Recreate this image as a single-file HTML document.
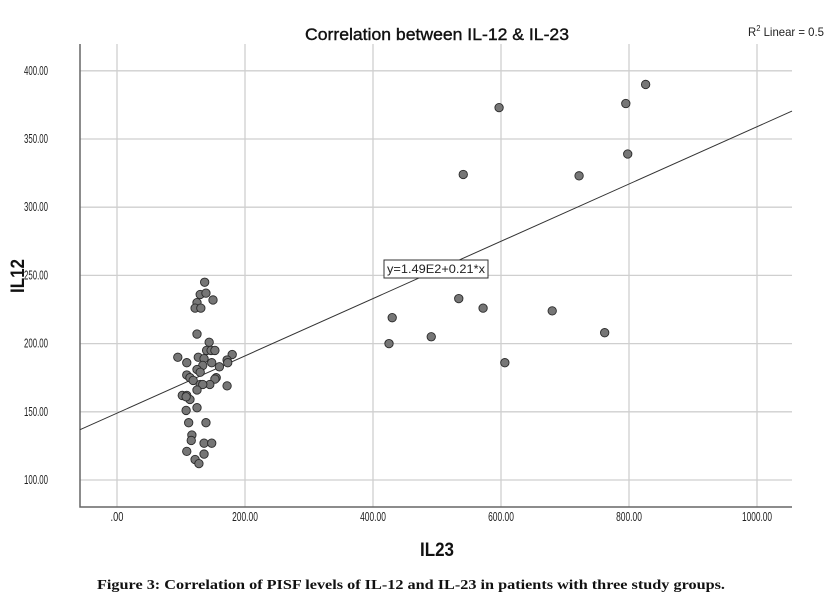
<!DOCTYPE html>
<html><head><meta charset="utf-8"><style>
body{margin:0;background:#fff;width:824px;height:598px;overflow:hidden}
svg{display:block;font-family:"Liberation Sans",sans-serif}
</style></head><body>
<svg id="chart" width="824" height="598">
<text x="437" y="40" text-anchor="middle" font-size="17" textLength="264" lengthAdjust="spacingAndGlyphs" fill="#111" stroke="#111" stroke-width="0.4">Correlation between IL-12 &amp; IL-23</text>
<text x="748" y="36" font-size="12" fill="#222" textLength="76" lengthAdjust="spacingAndGlyphs">R<tspan font-size="8" dy="-5">2</tspan><tspan dy="5"> Linear = 0.5</tspan></text>
<g id="grid"></g><g id="axes"></g><g id="fit"></g><g id="pts"></g>
<text x="437" y="556" text-anchor="middle" font-size="19" font-weight="bold" textLength="34" lengthAdjust="spacingAndGlyphs" fill="#111">IL23</text>
<text transform="translate(24,276) rotate(-90)" text-anchor="middle" font-size="19" font-weight="bold" textLength="34" lengthAdjust="spacingAndGlyphs" fill="#111">IL12</text>
<text x="411" y="589" text-anchor="middle" font-family="'Liberation Serif',serif" font-size="14" font-weight="bold" textLength="628" lengthAdjust="spacingAndGlyphs" fill="#111">Figure 3: Correlation of PISF levels of IL-12 and IL-23 in patients with three study groups.</text>
</svg>
<script>
const xTicks=[0,200,400,600,800,1000];
const xTickLabels=[".00","200.00","400.00","600.00","800.00","1000.00"];
const yTicks=[100,150,200,250,300,350,400];
const yTickLabels=["100.00","150.00","200.00","250.00","300.00","350.00","400.00"];
const il23=[826,795,798,722,597,541,534,572,680,762,606,491,430,425,
137,130,139,150,125,122,131,125,144,140,147,153,95,127,136,180,172,173,109,148,134,160,125,130,109,114,155,153,119,130,145,134,172,125,102,109,114,108,125,108,112,139,117,116,136,148,109,136,122,128];
const il12=[390,376,339,323,373,324,233,226,224,208,186,205,219,200,
245,236,237,232,230,226,226,207,201,195,195,195,190,190,189,192,188,186,186,186,184,183,181,179,177,175,175,174,173,170,170,170,169,166,162,162,159,161,153,151,142,142,133,129,127,127,121,119,115,112];
const fitIntercept=149, fitSlope=0.21;
const X0=80,X1=792,Y0=44,Y1=507;
const sx=v=>117+v*0.64, sy=v=>480-(v-100)*1.364;
const NS="http://www.w3.org/2000/svg";
function mk(t,a,p){const e=document.createElementNS(NS,t);for(const k in a)e.setAttribute(k,a[k]);p.appendChild(e);return e;}
const grid=document.getElementById('grid'),axes=document.getElementById('axes'),fit=document.getElementById('fit'),pts=document.getElementById('pts');
xTicks.forEach((v,i)=>{
 const l=mk('line',{x1:sx(v),x2:sx(v),y1:Y0,y2:Y1,stroke:'#cfcfcf','stroke-width':1.3},grid);
 
 
 const lab=xTickLabels[i];
 const t=mk('text',{x:sx(v),y:521,'text-anchor':'middle','font-size':13,fill:'#222',textLength:lab.length*4.3,lengthAdjust:'spacingAndGlyphs'},axes);
 t.textContent=lab;
 
 
});
yTicks.forEach((v,i)=>{
 const l=mk('line',{x1:X0,x2:X1,y1:sy(v),y2:sy(v),stroke:'#cfcfcf','stroke-width':1.3},grid);
 
 
 const t=mk('text',{x:48,y:sy(v)+4,'text-anchor':'end','font-size':13,fill:'#222',textLength:24,lengthAdjust:'spacingAndGlyphs'},axes);
 t.textContent=yTickLabels[i];
 
 
});
const ax=mk('path',{d:`M${X0},${Y0}V${Y1}H${X1}`,fill:'none',stroke:'#666','stroke-width':1.5},axes);


const xa=(X0-117)/0.64,xb=(X1-117)/0.64;
const fl=mk('line',{x1:X0,y1:sy(fitIntercept+fitSlope*xa),x2:X1,y2:sy(fitIntercept+fitSlope*xb),stroke:'#333','stroke-width':1},fit);


const bx=mk('rect',{x:384,y:260,width:104,height:18,fill:'#fff',stroke:'#333','stroke-width':1},fit);


const et=mk('text',{x:436,y:273,'text-anchor':'middle','font-size':12,fill:'#222',textLength:98,lengthAdjust:'spacingAndGlyphs'},fit);
et.textContent='y=1.49E2+0.21*x';


il23.forEach((v,i)=>{
 const c=mk('circle',{cx:sx(v),cy:sy(il12[i]),r:4.2,fill:'#767676',stroke:'#2a2a2a','stroke-width':0.9},pts);
 
 
});
</script>
</body></html>
